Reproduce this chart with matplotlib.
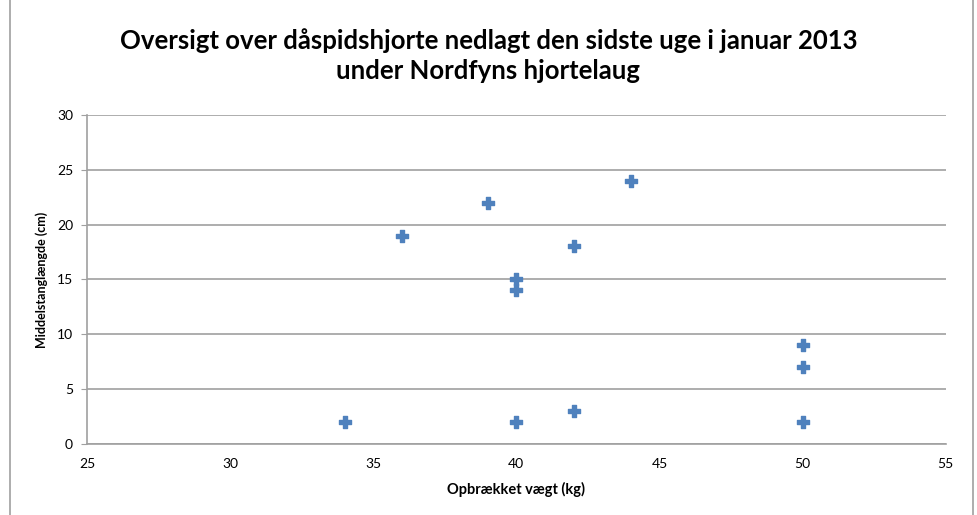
import matplotlib.pyplot as plt
from matplotlib.lines import Line2D

plt.rcParams['font.family'] = ['Lato', 'DejaVu Sans']

# data
vaegt = [34, 36, 39, 40, 40, 40, 42, 42, 44, 50, 50, 50]
stang = [2, 19, 22, 15, 14, 2, 18, 3, 24, 9, 7, 2]

fig = plt.figure(figsize=(9.77, 5.15), dpi=100)
ax = fig.add_axes([0.089, 0.138, 0.879, 0.639])

ax.scatter(vaegt, stang, marker='P', s=70, color='#4F81BD', zorder=3)

ax.set_xlim(25, 55)
ax.set_ylim(0, 30)
ax.set_xticks(range(25, 56, 5))
ax.set_yticks(range(0, 31, 5))
ax.grid(axis='y', color='#A0A0A0', linewidth=1.2)
ax.set_axisbelow(True)
for s in ['top', 'right']:
    ax.spines[s].set_visible(False)
for s in ['left', 'bottom']:
    ax.spines[s].set_color('#A0A0A0')
    ax.spines[s].set_linewidth(1.2)
ax.tick_params(axis='y', length=4, color='#A0A0A0', labelsize=10, pad=6)
ax.tick_params(axis='x', length=0, labelsize=10, pad=10)

ax.set_xlabel('Opbrækket vægt (kg)', fontsize=10.5, fontweight='bold', labelpad=9)
ax.set_ylabel('Middelstanglængde (cm)', fontsize=9, fontweight='bold', labelpad=6)

fig.suptitle('Oversigt over dåspidshjorte nedlagt den sidste uge i januar 2013\nunder Nordfyns hjortelaug',
             fontsize=18.5, fontweight='bold', y=0.945, linespacing=1.3)

# chart frame (left and right edges visible)
fig.add_artist(Line2D([10 / 977, 10 / 977], [0, 1], color='#A0A0A0', linewidth=1.2))
fig.add_artist(Line2D([973 / 977, 973 / 977], [0, 1], color='#A0A0A0', linewidth=1.2))

fig.savefig('out.png', dpi=100)
